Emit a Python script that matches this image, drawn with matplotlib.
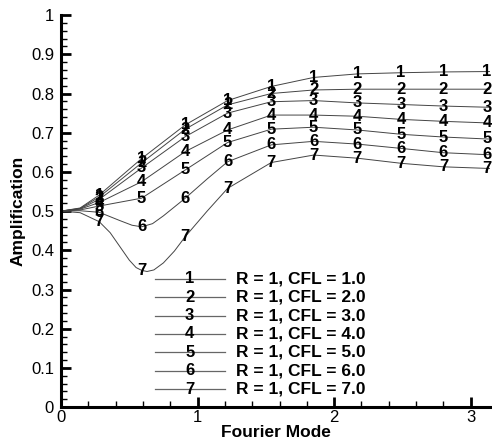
"""
Amplification vs Fourier mode for R = 1 and several CFL numbers
"""

import matplotlib
matplotlib.use("Agg")
import matplotlib.pyplot as plt
from matplotlib.ticker import MultipleLocator

plt.rcParams['font.family'] = ['Liberation Sans', 'DejaVu Sans']

# x positions where the numbered symbols sit
mark_x = [0.28, 0.59, 0.91, 1.22, 1.54, 1.85, 2.17, 2.49, 2.80, 3.12]

# curve samples (start + symbol positions, with a few extra reads for the dips)
x_std = [0.0, 0.14, 0.28, 0.59, 0.91, 1.22, 1.54, 1.85, 2.17, 2.49, 2.80, 3.12, 3.1416]
c1 = [0.5, 0.508, 0.541, 0.634, 0.720, 0.782, 0.818, 0.841, 0.850, 0.853, 0.855, 0.856, 0.856]
c2 = [0.5, 0.507, 0.536, 0.623, 0.709, 0.771, 0.800, 0.809, 0.811, 0.811, 0.811, 0.811, 0.811]
c3 = [0.5, 0.506, 0.530, 0.610, 0.690, 0.750, 0.779, 0.782, 0.776, 0.772, 0.768, 0.765, 0.765]
c4 = [0.5, 0.505, 0.522, 0.575, 0.652, 0.707, 0.745, 0.745, 0.742, 0.734, 0.729, 0.725, 0.725]
c5 = [0.5, 0.503, 0.513, 0.533, 0.605, 0.675, 0.709, 0.714, 0.707, 0.696, 0.689, 0.684, 0.684]

x6 = [0.0, 0.14, 0.28, 0.43, 0.52, 0.59, 0.67, 0.75, 0.91, 1.07, 1.22, 1.54, 1.85, 2.17, 2.49, 2.80, 3.12, 3.1416]
c6 = [0.5, 0.501, 0.497, 0.476, 0.464, 0.460, 0.468, 0.488, 0.533, 0.582, 0.626, 0.669, 0.678, 0.671, 0.660, 0.649, 0.644, 0.644]
x7 = [0.0, 0.14, 0.28, 0.36, 0.43, 0.50, 0.55, 0.59, 0.63, 0.68, 0.75, 0.83, 0.91, 1.07, 1.22, 1.54, 1.85, 2.17, 2.49, 2.80, 3.12, 3.1416]
c7 = [0.5, 0.496, 0.473, 0.445, 0.410, 0.375, 0.356, 0.349, 0.346, 0.350, 0.368, 0.398, 0.435, 0.500, 0.558, 0.624, 0.643, 0.635, 0.622, 0.613, 0.609, 0.609]

curves_x = [x_std, x_std, x_std, x_std, x_std, x6, x7]
curves_y = [c1, c2, c3, c4, c5, c6, c7]
cfl = [1.0, 2.0, 3.0, 4.0, 5.0, 6.0, 7.0]

fig = plt.figure(figsize=(4.92, 4.44), dpi=100)
ax = fig.add_axes([0.124, 0.083, 0.872, 0.883])

for i, (xs, ys) in enumerate(zip(curves_x, curves_y)):
    ax.plot(xs, ys, color='#444444', lw=0.7, zorder=2)
    for mx in mark_x:
        if mx not in xs:
            continue
        my = ys[xs.index(mx)]
        ax.text(mx, my, str(i + 1), ha='center', va='center', fontsize=12,
                fontweight='bold', color='black', zorder=3)

# legend drawn in axes coordinates
for i, c in enumerate(cfl):
    yy = 0.327 - i * 0.0468
    ax.plot([0.219, 0.382], [yy, yy], transform=ax.transAxes, color='#666666',
            lw=0.9, clip_on=False)
    ax.text(0.300, yy, str(i + 1), transform=ax.transAxes, ha='center',
            va='center', fontsize=12, fontweight='bold')
    ax.text(0.408, yy, 'R = 1, CFL = %.1f' % c, transform=ax.transAxes,
            ha='left', va='center', fontsize=12.5, fontweight='bold')

ax.set_xlim(0, 3.1416)
ax.set_ylim(0, 1)
ax.xaxis.set_minor_locator(MultipleLocator(0.2))
ax.yaxis.set_minor_locator(MultipleLocator(0.02))
ax.set_xticks([0, 1, 2, 3])
ax.set_xticklabels(['0', '1', '2', '3'])
ax.set_yticks([0, 0.1, 0.2, 0.3, 0.4, 0.5, 0.6, 0.7, 0.8, 0.9, 1.0])
ax.set_yticklabels(['0', '0.1', '0.2', '0.3', '0.4', '0.5', '0.6', '0.7', '0.8', '0.9', '1'])

for s in ['top', 'right']:
    ax.spines[s].set_visible(False)
for s in ['left', 'bottom']:
    ax.spines[s].set_linewidth(2.2)
ax.tick_params(which='major', direction='in', length=7, width=2.0, labelsize=12)
ax.tick_params(axis='x', which='major', pad=2)
ax.tick_params(axis='y', which='major', pad=5)
ax.tick_params(which='minor', direction='in', length=4, width=1.0)

ax.set_xlabel('Fourier Mode', fontsize=12.5, fontweight='bold', labelpad=0)
ax.set_ylabel('Amplification', fontsize=12.5, fontweight='bold', labelpad=4)

fig.savefig('out.png', dpi=100)
